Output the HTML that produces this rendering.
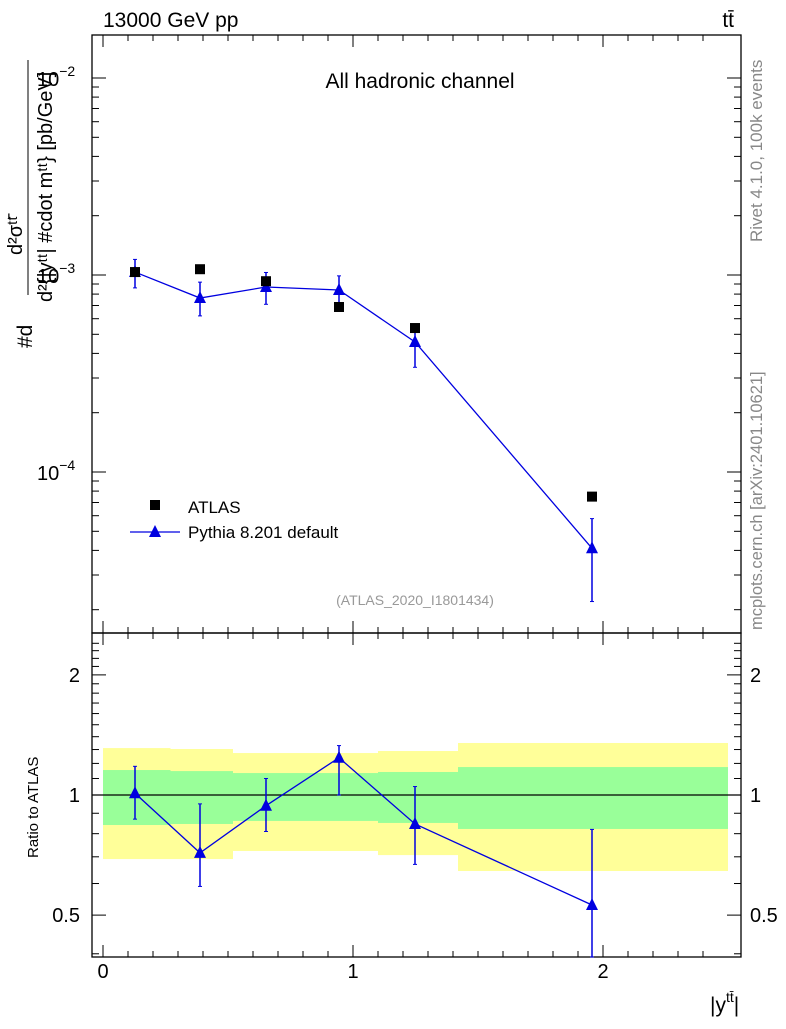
<!DOCTYPE html>
<html><head><meta charset="utf-8"><style>
body{margin:0;background:#fff;}
svg{font-family:"Liberation Sans",sans-serif;}
</style></head><body>
<svg id="c" width="786" height="1024" xmlns="http://www.w3.org/2000/svg"></svg>
<script>
const xVals=[0.128,0.388,0.652,0.944,1.248,1.956];
const atlasVals=[1.035e-3,1.07e-3,0.93e-3,0.688e-3,0.538e-3,7.5e-5];
const pythiaVals=[1.035e-3,0.764e-3,0.869e-3,0.839e-3,0.457e-3,4.1e-5];
const pythiaErrUp=[1.2e-3,0.92e-3,1.03e-3,0.99e-3,0.56e-3,5.8e-5];
const pythiaErrDn=[0.86e-3,0.62e-3,0.71e-3,0.71e-3,0.34e-3,2.2e-5];
const ratioVals=[1.01,0.716,0.94,1.24,0.846,0.53];
const ratioUp=[1.18,0.95,1.10,1.33,1.05,0.82];
const ratioDn=[0.87,0.59,0.81,1.00,0.67,0.35];
const binEdges=[0,0.27,0.52,0.8,1.1,1.42,2.5];
const yellowHi=[1.311,1.304,1.274,1.274,1.289,1.35];
const yellowLo=[0.691,0.691,0.724,0.724,0.707,0.645];
const greenHi=[1.155,1.148,1.135,1.135,1.142,1.175];
const greenLo=[0.841,0.846,0.861,0.861,0.851,0.822];
const xTicks=[0,1,2];
const ratioTicks=[0.5,1,2];

const svg=document.getElementById('c');
const NS='http://www.w3.org/2000/svg';
function el(t,a,p){const e=document.createElementNS(NS,t);for(const k in a)e.setAttribute(k,a[k]);(p||svg).appendChild(e);return e;}
const L=92,R=741,T=35,M=633,B=957;
const X=v=>103+250*v;
const Y=v=>275-197*(Math.log10(v)+3);
const YR=v=>795-399*Math.log10(v);

for(let i=0;i<6;i++){
 let r=el('rect',{x:X(binEdges[i]),y:YR(yellowHi[i]),width:X(binEdges[i+1])-X(binEdges[i]),height:YR(yellowLo[i])-YR(yellowHi[i]),fill:'#ffff99'});
 
 let g=el('rect',{x:X(binEdges[i]),y:YR(greenHi[i]),width:X(binEdges[i+1])-X(binEdges[i]),height:YR(greenLo[i])-YR(greenHi[i]),fill:'#99ff99'});
 
}
el('line',{x1:L,x2:R,y1:YR(1),y2:YR(1),stroke:'#000','stroke-width':1.2});

let f1=el('rect',{x:L,y:T,width:R-L,height:M-T,fill:'none',stroke:'#000','stroke-width':1.3});

let f2=el('rect',{x:L,y:M,width:R-L,height:B-M,fill:'none',stroke:'#000','stroke-width':1.3});


for(let v=0;v<=2.5;v+=0.1){
 const x=X(v);const major=Math.abs(v-Math.round(v))<1e-6;const len=major?12:6;
 for(const [yb,dir] of [[M,-1],[T,1],[B,-1],[M,1]]) el('line',{x1:x,x2:x,y1:yb,y2:yb+dir*len,stroke:'#000'});
}
xTicks.forEach(v=>{const t=el('text',{x:X(v),y:978,'font-size':20,'text-anchor':'middle'});t.textContent=v;});

for(let e=-5;e<=-2;e++)for(let m=1;m<10;m++){const v=m*Math.pow(10,e);const y=Y(v);if(y<T||y>M)continue;const len=m==1?14:7;
 el('line',{x1:L,x2:L+len,y1:y,y2:y,stroke:'#000'});el('line',{x1:R,x2:R-len,y1:y,y2:y,stroke:'#000'});}
[[-2,Y(1e-2)],[-3,Y(1e-3)],[-4,Y(1e-4)]].forEach(([e,y])=>{const t=el('text',{x:37,y:y+8,'font-size':20});t.textContent='10';const s=el('tspan',{dy:-10,'font-size':14},t);s.textContent='\u2212'+(-e);});

for(let v=0.4;v<=2.5;v+=0.1){const y=YR(v);if(y<M||y>B)continue;const maj=ratioTicks.some(r=>Math.abs(r-v)<1e-6);const len=maj?14:7;
 el('line',{x1:L,x2:L+len,y1:y,y2:y,stroke:'#000'});el('line',{x1:R,x2:R-len,y1:y,y2:y,stroke:'#000'});}
ratioTicks.forEach(v=>{const y=YR(v)+7;const a=el('text',{x:80,y:y,'font-size':20,'text-anchor':'end'});a.textContent=v;
 const b=el('text',{x:750,y:y,'font-size':20});b.textContent=v;});

let pl=el('polyline',{points:xVals.map((x,i)=>X(x)+','+Y(pythiaVals[i])).join(' '),fill:'none',stroke:'#0000e0','stroke-width':1.3});

function tri(x,y,name){const p=el('polygon',{points:`${x},${y-7} ${x-6},${y+5} ${x+6},${y+5}`,fill:'#0000e0'});}
function err(x,y1,y2){el('line',{x1:x,x2:x,y1:y1,y2:y2,stroke:'#0000e0','stroke-width':1.5});el('line',{x1:x-2,x2:x+2,y1:y1,y2:y1,stroke:'#0000e0'});el('line',{x1:x-2,x2:x+2,y1:y2,y2:y2,stroke:'#0000e0'});}
xVals.forEach((x,i)=>{err(X(x),Y(pythiaErrUp[i]),Y(pythiaErrDn[i]));tri(X(x),Y(pythiaVals[i]),'pythia-point');});
xVals.forEach((x,i)=>{const r=el('rect',{x:X(x)-5,y:Y(atlasVals[i])-5,width:10,height:10,fill:'#000'});});

let rl=el('polyline',{points:xVals.map((x,i)=>X(x)+','+YR(ratioVals[i])).join(' '),fill:'none',stroke:'#0000e0','stroke-width':1.3});

xVals.forEach((x,i)=>{err(X(x),YR(ratioUp[i]),Math.min(B,YR(ratioDn[i])));tri(X(x),YR(ratioVals[i]),'ratio-point');});

function txt(s,a,name){const t=el('text',a);t.textContent=s;return t;}
txt('13000 GeV pp',{x:103,y:27,'font-size':21},'beam-label');
txt('tt\u0304',{x:734,y:27,'font-size':21,'text-anchor':'end'},'process-label');
txt('All hadronic channel',{x:420,y:88,'font-size':21,'text-anchor':'middle'},'channel-title');
txt('(ATLAS_2020_I1801434)',{x:415,y:605,'font-size':14,'text-anchor':'middle',fill:'#999'},'analysis-id');
let lr=el('rect',{x:150,y:500,width:10,height:10,fill:'#000'});
txt('ATLAS',{x:188,y:513,'font-size':17},'legend-atlas');
el('line',{x1:130,x2:180,y1:532,y2:532,stroke:'#0000e0','stroke-width':1.3});tri(155,532,'legend-pythia-marker');
txt('Pythia 8.201 default',{x:188,y:538,'font-size':17},'legend-pythia');
txt('Rivet 4.1.0,  100k events',{transform:'translate(762,242) rotate(-90)','font-size':17,fill:'#888'},'rivet-label');
txt('mcplots.cern.ch [arXiv:2401.10621]',{transform:'translate(762,630) rotate(-90)','font-size':16.5,fill:'#888'},'mcplots-label');
txt('Ratio to ATLAS',{transform:'translate(38,858) rotate(-90)','font-size':15},'ratio-y-title');
txt('#d',{transform:'translate(32,348) rotate(-90)','font-size':21},'y-axis-title');
txt('d\u00B2\u03C3\u1D57\u1D57\u0304',{transform:'translate(22,255) rotate(-90)','font-size':20},'y-title-numerator');
el('line',{x1:28,x2:28,y1:60,y2:295,stroke:'#000','stroke-width':1});
txt('d\u00B2{|y\u1D57\u1D57| #cdot m\u1D57\u1D57} [pb/GeV]',{transform:'translate(52,302) rotate(-90)','font-size':20},'y-title-denominator');
let xl=txt('|y',{x:710,y:1012,'font-size':21},'x-axis-title');
el('tspan',{dy:-10,'font-size':14},xl).textContent='tt\u0304';
el('tspan',{dy:10,'font-size':21},xl).textContent='|';
</script>
</body></html>
